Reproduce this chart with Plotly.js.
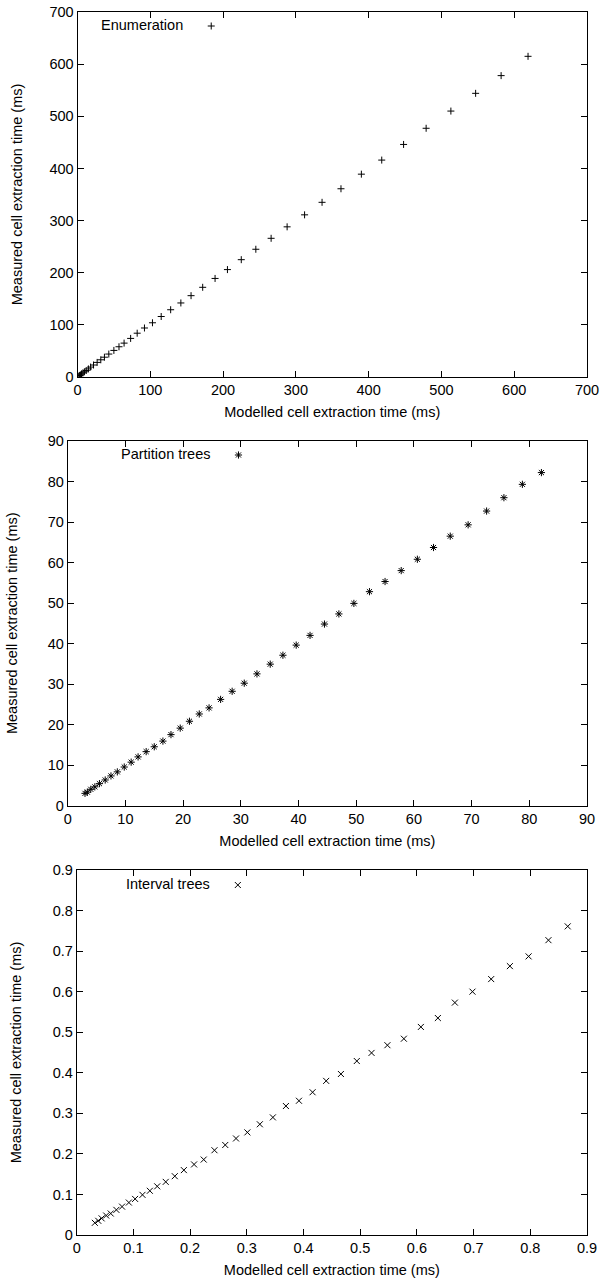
<!DOCTYPE html>
<html>
<head>
<meta charset="utf-8">
<script src="https://cdn.plot.ly/plotly-3.0.1.min.js"></script>
<style>html,body{margin:0;padding:0;background:#fff;}#chart{width:600px;height:1283px;}</style>
</head>
<body>
<div id="chart"></div>
<script>
// ---- Data ----
const enumModelled = [619, 582, 547, 513, 479, 448, 418, 390, 362, 336, 312, 288, 266, 245, 225, 206, 189, 172, 156, 142, 128, 115, 103, 92, 82, 73, 64, 57, 50, 43, 37, 32, 27, 22, 18, 15, 12, 9.5, 7.5, 5.5, 4, 3, 2];
const enumMeasured = [615, 578, 544, 510, 477, 446, 416, 389, 361, 335, 311, 288, 266, 245, 225, 206, 189, 172, 156, 142, 129, 116, 104, 94, 84, 74, 65, 58, 51, 44, 38, 33, 28, 23, 19, 15.5, 12.5, 10, 8, 6, 4, 3, 2];

const partModelled = [3.0, 3.4, 4.0, 4.7, 5.5, 6.5, 7.5, 8.6, 9.8, 11.0, 12.2, 13.6, 15.0, 16.5, 17.9, 19.5, 21.1, 22.8, 24.5, 26.5, 28.5, 30.6, 32.8, 35.1, 37.3, 39.6, 42.0, 44.5, 47.0, 49.6, 52.3, 55.0, 57.8, 60.6, 63.4, 66.3, 69.4, 72.6, 75.6, 78.8, 82.1];
const partMeasured = [3.0, 3.3, 4.0, 4.6, 5.4, 6.3, 7.3, 8.3, 9.5, 10.7, 12.0, 13.3, 14.5, 15.9, 17.5, 19.1, 20.8, 22.6, 24.1, 26.2, 28.2, 30.2, 32.5, 34.9, 37.1, 39.6, 42.0, 44.8, 47.3, 49.9, 52.8, 55.3, 58.0, 60.8, 63.7, 66.5, 69.3, 72.7, 76.0, 79.3, 82.2];

const intModelled = [0.032, 0.038, 0.044, 0.052, 0.060, 0.070, 0.080, 0.092, 0.103, 0.116, 0.129, 0.142, 0.157, 0.173, 0.189, 0.207, 0.224, 0.243, 0.262, 0.281, 0.301, 0.323, 0.346, 0.369, 0.392, 0.416, 0.440, 0.466, 0.494, 0.520, 0.548, 0.577, 0.607, 0.637, 0.667, 0.698, 0.731, 0.764, 0.797, 0.832, 0.866];
const intMeasured = [0.030, 0.035, 0.041, 0.048, 0.053, 0.062, 0.070, 0.080, 0.089, 0.099, 0.109, 0.120, 0.131, 0.145, 0.160, 0.174, 0.186, 0.209, 0.222, 0.238, 0.253, 0.273, 0.290, 0.318, 0.331, 0.352, 0.380, 0.397, 0.429, 0.449, 0.468, 0.484, 0.513, 0.535, 0.573, 0.600, 0.631, 0.663, 0.687, 0.727, 0.761];

const seriesNames = ['Enumeration', 'Partition trees', 'Interval trees'];
const xTitle = 'Modelled cell extraction time (ms)';
const yTitle = 'Measured cell extraction time (ms)';

// ---- Styling ----
const FONT = 'Liberation Sans, Arial, Helvetica, sans-serif';
const FS = 14.5;
const W = 600, H = 1283;

function mk(x, y, sym, size, xa, ya, lg) {
  return {
    type: 'scatter', mode: 'markers', x: x, y: y,
    xaxis: xa, yaxis: ya, legend: lg, name: ' ',
    marker: {symbol: sym, size: size, color: '#000', line: {color: '#000', width: 1}},
    hoverinfo: 'x+y'
  };
}

const traces = [
  mk(enumModelled, enumMeasured, 'cross-thin', 5, 'x', 'y', 'legend'),
  mk(partModelled, partMeasured, 'asterisk', 6, 'x2', 'y2', 'legend2'),
  mk(intModelled, intMeasured, 'x-thin', 6, 'x3', 'y3', 'legend3')
];

function axis(range, dtick, dom, anchor, title, standoff) {
  return {
    domain: dom, anchor: anchor, range: range, dtick: dtick, tick0: 0,
    ticks: 'inside', ticklen: 6, tickwidth: 1, tickcolor: '#000',
    showline: true, linecolor: '#000', linewidth: 1, mirror: 'allticks',
    showgrid: false, zeroline: false,
    tickfont: {family: FONT, size: FS, color: '#000'},
    title: {text: title, standoff: standoff, font: {family: FONT, size: FS, color: '#000'}},
    fixedrange: true
  };
}
function py(px) { return 1 - px / H; }
function pxx(px) { return px / W; }

function legendCfg(xpx, ypx, title) {
  return {
    x: pxx(xpx), y: py(ypx), xanchor: 'left', yanchor: 'middle',
    bgcolor: 'rgba(0,0,0,0)', borderwidth: 0,
    font: {family: FONT, size: 8, color: '#000'},
    title: {text: title, side: 'left', font: {family: FONT, size: FS, color: '#000'}},
    itemwidth: 30
  };
}

const XS = 9;
const layout = {
  width: W, height: H,
  margin: {l: 0, r: 0, t: 0, b: 0},
  paper_bgcolor: '#fff', plot_bgcolor: '#fff',
  font: {family: FONT, size: FS, color: '#000'},
  xaxis: axis([0, 700], 100, [pxx(77.5), pxx(587)], 'y', xTitle, XS),
  yaxis: axis([0, 700], 100, [py(377), py(12)], 'x', yTitle, 23),
  xaxis2: axis([0, 90], 10, [pxx(67.7), pxx(587)], 'y2', xTitle, XS),
  yaxis2: axis([0, 90], 10, [py(805.5), py(441)], 'x2', yTitle, 26),
  xaxis3: axis([0, 0.9], 0.1, [pxx(76.7), pxx(587)], 'y3', xTitle, XS),
  yaxis3: axis([0, 0.9], 0.1, [py(1235), py(870)], 'x3', yTitle, 27),
  legend: legendCfg(99, 26, seriesNames[0]),
  legend2: legendCfg(119, 455, seriesNames[1]),
  legend3: legendCfg(124, 885, seriesNames[2]),
  showlegend: true
};

Plotly.newPlot('chart', traces, layout, {displayModeBar: false, staticPlot: true});
</script>
</body>
</html>
